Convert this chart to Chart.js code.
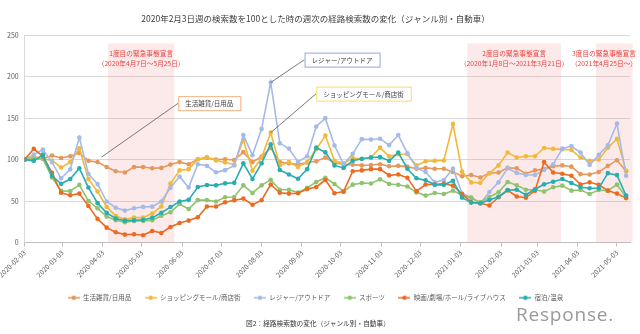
<!DOCTYPE html>
<html lang="ja">
<head>
<meta charset="utf-8">
<title>経路検索数の変化（ジャンル別・自動車）</title>
<script src="https://cdn.jsdelivr.net/npm/chart.js@4/dist/chart.umd.min.js"></script>
<style>
  html, body { margin: 0; padding: 0; background: #fff; }
  #wrap { position: relative; width: 640px; height: 334px; overflow: hidden; }
  #caption {
    position: absolute; left: 0; width: 636px; top: 318px;
    text-align: center; font: 6.7px "Noto Sans CJK JP", sans-serif; color: #333;
  }
  #logo {
    position: absolute; left: 516px; top: 301px;
    font: 19px "Open Sans", "Lato", sans-serif; color: #9a9a9a; letter-spacing: 0.8px;
  }
</style>
</head>
<body>
<div id="wrap">
  <canvas id="chart" width="640" height="334"></canvas>
  <div id="caption">図2：経路検索数の変化（ジャンル別・自動車）</div>
  <div id="logo">Response.</div>
</div>
<script>
// 2020-02-03週 = 100 とした週次の経路検索数（自動車）
const FIRST_WEEK = '2020-02-03';

const genres = ['生活雑貨/日用品', 'ショッピングモール/商店街', 'レジャー/アウトドア', 'スポーツ', '映画/劇場/ホール/ライブハウス', '宿泊/温泉'];

const dailyGoods = [100, 101, 101, 105, 102, 104, 108, 98.5, 97, 91,
  86, 84.5, 91, 91, 89.5, 90, 94, 97, 94.5, 100.5,
  102, 100, 100.5, 99.5, 109, 97, 103.7, 114, 97, 95.5,
  94.5, 96.5, 98, 102.5, 96, 94.5, 94, 93, 93.5, 94.5,
  92, 92.5, 91.5, 89, 90, 89, 89, 85, 80, 81.5,
  78.5, 83.7, 84.5, 90, 89.5, 83, 87, 88.5, 92, 93,
  91.5, 82.5, 82, 85, 92.5, 99.3, 86];
const shopping = [100, 104, 101, 99, 90.5, 97, 113.5, 76.5, 61.5, 43,
  32, 28, 30, 30, 35, 43.5, 71, 87, 88.5, 100.5,
  103, 99, 96.5, 94, 124, 86.5, 102.5, 132.5, 93, 97,
  91, 97, 112.5, 129, 98.5, 95.5, 102, 100.8, 102.5, 114.4,
  104, 106.5, 106.5, 93, 98, 98.5, 99, 143, 85.5, 72.5,
  72, 83.7, 93, 108.5, 102.5, 104, 104, 114, 113, 112.4,
  111.5, 102.5, 98.5, 100, 114.4, 125, 86.5];
const leisure = [100, 106, 112, 97, 77.5, 88.3, 126.5, 82.7, 70.5, 49.5,
  42, 38.5, 41.3, 43, 43.3, 49.5, 66, 79.5, 66.5, 94.5,
  92.5, 84.7, 87.3, 93, 129.6, 105.3, 137, 193, 119.6, 113.3,
  97.3, 104, 140, 150, 117, 94.5, 107, 124.7, 124.3, 125.2,
  117.5, 129.6, 107.7, 90, 85, 72.6, 75.5, 89.3, 59.2, 54.6,
  47, 61, 72.6, 89.5, 84, 81.5, 81.5, 87.5, 94.5, 113.2,
  116.4, 108.5, 93.5, 105.7, 117.2, 143.5, 80.5];
const sports = [100, 101, 101, 78.5, 62.3, 62, 69.5, 50, 41.3, 31.3,
  27, 24.5, 26, 26, 27, 32.3, 36.5, 46.4, 40.4, 51.2,
  51.2, 49.5, 54.6, 55, 69, 59.8, 69, 75.8, 63.6, 63.6,
  60.2, 66, 73, 78.2, 70.6, 61.6, 69.8, 71.8, 71.2, 76.2,
  70.6, 69.6, 67.6, 60.5, 56.6, 59.8, 58.6, 62.6, 57, 53.6,
  48.6, 55, 60.6, 73, 69, 63.6, 63.6, 61.6, 66.6, 68.6,
  62.6, 63.4, 58.6, 63.4, 62.6, 69.8, 54.6];
const movies = [100, 113, 104, 84, 60, 57, 59, 44, 28.5, 18,
  12.5, 9.6, 10, 8.8, 14, 11.6, 18.7, 23.5, 26.5, 30.5,
  43.5, 43.5, 48.6, 51, 53, 45.6, 51, 70, 60, 59,
  59.5, 64.5, 67, 75.4, 59.5, 61.4, 86, 87, 88.5, 88.5,
  81, 82, 78, 62, 70, 70, 71, 68.6, 58.6, 48.6,
  47.4, 44.7, 54.6, 63, 55.6, 54, 62.6, 97, 84.5, 83,
  80.5, 70, 72.6, 69.6, 62.6, 59, 53.6];
const lodging = [100, 98.5, 106, 80.5, 70.8, 76.6, 89.5, 66.3, 47.5, 35.8,
  29, 26.4, 26.8, 27.4, 29.8, 36, 42.8, 49.5, 51.5, 67,
  69.4, 69, 71.4, 72, 95.5, 76.6, 95.7, 118.6, 87.5, 82,
  77, 88.5, 114.4, 108.7, 93, 90, 98.7, 101, 102.5, 103,
  98.5, 108.5, 89, 77.5, 75, 69.6, 69.6, 74.6, 54.2, 48.2,
  47.4, 51.2, 55.2, 63.2, 63.6, 57.6, 64.2, 70.2, 73.4, 76.6,
  71.8, 66.6, 65.4, 65.4, 83.7, 81.3, 56.6];

const seriesValues = [dailyGoods, shopping, leisure, sports, movies, lodging];

// 目盛り（毎月3日）
const tickDates = ['2020-02-03', '2020-03-03', '2020-04-03', '2020-05-03', '2020-06-03', '2020-07-03',
  '2020-08-03', '2020-09-03', '2020-10-03', '2020-11-03', '2020-12-03', '2021-01-03',
  '2021-02-03', '2021-03-03', '2021-04-03', '2021-05-03'];
const yTicks = [0, 50, 100, 150, 200, 250];

// 緊急事態宣言の期間
const emergencyTitles = ['1度目の緊急事態宣言', '2度目の緊急事態宣言', '3度目の緊急事態宣言'];
const emergencyNotes = ['（2020年4月7日～5月25日）', '（2020年1月8日～2021年3月21日）', '（2021年4月25日～）'];
const emergencyFrom = ['2020-04-07', '2021-01-08', '2021-04-17'];
const emergencyTo = ['2020-05-28', '2021-03-21', '2021-05-15'];

// 吹き出し: 対象の系列と週
const calloutSeries = [0, 2, 1];
const calloutWeek = [null, 27, 27];

const colors = ['#E5985C', '#F1B93B', '#A6BAE7', '#8FC36F', '#EC6B20', '#28ADB0'];
const calloutBorders = ['#F4B183', '#8EA9DB', '#FFD966'];
// 吹き出しの位置（日付, 値）
const calloutBox = [
  { date: '2020-05-31', value: 176.5 },
  { date: '2020-09-05', value: 229 },
  { date: '2020-09-14', value: 188 }
];
const calloutFreeTip = { date: '2020-04-02', value: 103 };

const DAY = 86400000;
const t0 = Date.parse(FIRST_WEEK + 'T00:00:00Z');
const dayOf = s => (Date.parse(s + 'T00:00:00Z') - t0) / DAY;
const dateStr = d => new Date(t0 + d * DAY).toISOString().slice(0, 10);
const weeks = dailyGoods.map((_, i) => dateStr(i * 7));

const FONT = '"Noto Sans CJK JP", "Noto Sans", sans-serif';
Chart.defaults.font.family = FONT;
Chart.defaults.color = '#595959';

function legendMarker(color) {
  const c = document.createElement('canvas');
  c.width = 12; c.height = 6;
  const g = c.getContext('2d');
  g.strokeStyle = color; g.lineWidth = 1.5;
  g.beginPath(); g.moveTo(0, 3); g.lineTo(12, 3); g.stroke();
  g.fillStyle = color;
  g.beginPath(); g.arc(6, 3, 2.2, 0, Math.PI * 2); g.fill();
  return c;
}

const overlay = {
  id: 'overlay',
  beforeDatasetsDraw(chart) {
    const { ctx } = chart;
    const xs = chart.scales.x, ys = chart.scales.y;
    const top = ys.getPixelForValue(240), bottom = ys.getPixelForValue(0);
    ctx.save();
    ctx.fillStyle = 'rgba(240, 150, 150, 0.2)';
    emergencyFrom.forEach((from, i) => {
      const x1 = xs.getPixelForValue(dayOf(from));
      const x2 = xs.getPixelForValue(dayOf(emergencyTo[i]));
      ctx.fillRect(x1, top, x2 - x1, bottom - top);
    });
    ctx.fillStyle = '#E8413E';
    ctx.font = '6.7px ' + FONT;
    ctx.textAlign = 'center';
    ctx.textBaseline = 'middle';
    emergencyFrom.forEach((from, i) => {
      const x1 = xs.getPixelForValue(dayOf(from));
      const x2 = xs.getPixelForValue(dayOf(emergencyTo[i]));
      const w = Math.max(ctx.measureText(emergencyTitles[i]).width, ctx.measureText(emergencyNotes[i]).width);
      const cx = Math.min((x1 + x2) / 2, chart.width - 3 - w / 2);
      ctx.fillText(emergencyTitles[i], cx, top + 9.5);
      ctx.fillText(emergencyNotes[i], cx, top + 20);
    });
    ctx.restore();
  },
  afterDatasetsDraw(chart) {
    const { ctx } = chart;
    const xs = chart.scales.x, ys = chart.scales.y;
    ctx.save();
    ctx.font = '6.5px ' + FONT;
    ctx.textBaseline = 'middle';
    calloutSeries.forEach((s, i) => {
      const text = genres[s];
      const bx = xs.getPixelForValue(dayOf(calloutBox[i].date));
      const by = ys.getPixelForValue(calloutBox[i].value);
      const bw = ctx.measureText(text).width + 14;
      const bh = 14;
      let tx, ty;
      if (calloutWeek[i] === null) {
        tx = xs.getPixelForValue(dayOf(calloutFreeTip.date));
        ty = ys.getPixelForValue(calloutFreeTip.value);
      } else {
        tx = xs.getPixelForValue(dayOf(weeks[calloutWeek[i]]));
        ty = ys.getPixelForValue(seriesValues[s][calloutWeek[i]]);
      }
      ctx.strokeStyle = '#595959';
      ctx.lineWidth = 0.8;
      ctx.beginPath();
      ctx.moveTo(bx, by + bh / 2);
      ctx.lineTo(tx, ty);
      ctx.stroke();
      ctx.fillStyle = '#fff';
      ctx.fillRect(bx, by, bw, bh);
      ctx.strokeStyle = calloutBorders[i];
      ctx.lineWidth = 1;
      ctx.strokeRect(bx + 0.5, by + 0.5, bw, bh);
      ctx.fillStyle = '#404040';
      ctx.fillText(text, bx + 7, by + bh / 2 + 0.5);
    });
    ctx.restore();
  }
};

new Chart(document.getElementById('chart'), {
  type: 'line',
  data: {
    datasets: genres.map((g, i) => ({
      label: g,
      data: seriesValues[i].map((v, k) => ({ x: dayOf(weeks[k]), y: v })),
      borderColor: colors[i],
      backgroundColor: colors[i],
      pointBackgroundColor: colors[i],
      pointBorderWidth: 0,
      pointRadius: 2.3,
      borderWidth: 1.6,
      tension: 0,
      order: genres.length - 1 - i
    }))
  },
  options: {
    responsive: false,
    animation: false,
    devicePixelRatio: 1,
    layout: { padding: { top: 0, left: 1, right: 10, bottom: 23 } },
    plugins: {
      title: {
        display: true,
        text: '2020年2月3日週の検索数を100とした時の週次の経路検索数の変化（ジャンル別・自動車）',
        color: '#404040',
        font: { size: 8.5, weight: 'normal' },
        padding: { top: 14, bottom: 11 }
      },
      legend: {
        position: 'bottom',
        labels: {
          usePointStyle: true,
          pointStyleWidth: 12,
          font: { size: 6.5 },
          padding: 13.5,
          generateLabels: chart => chart.data.datasets.map((ds, i) => ({
            text: ds.label,
            fillStyle: ds.borderColor,
            strokeStyle: ds.borderColor,
            lineWidth: 0,
            pointStyle: legendMarker(ds.borderColor),
            fontColor: '#595959',
            hidden: false,
            datasetIndex: i
          }))
        }
      },
      tooltip: { enabled: false }
    },
    scales: {
      x: {
        type: 'linear',
        min: 0,
        max: dayOf('2021-05-13'),
        afterBuildTicks: scale => { scale.ticks = tickDates.map(d => ({ value: dayOf(d) })); },
        // 斜めの先頭ラベルで左余白が広がらないようにする
        afterFit: scale => { scale.paddingLeft = 0; },
        ticks: {
          autoSkip: false,
          minRotation: 45,
          maxRotation: 45,
          font: { size: 6.8 },
          padding: 2,
          callback: v => dateStr(v)
        },
        grid: { drawOnChartArea: false, drawTicks: true, tickLength: 4, color: '#BFBFBF' },
        border: { display: true, color: '#BFBFBF' }
      },
      y: {
        min: 0,
        max: 250,
        afterBuildTicks: scale => { scale.ticks = yTicks.map(v => ({ value: v })); },
        ticks: { font: { size: 7 }, padding: 6 },
        grid: { color: '#D9D9D9', drawTicks: false },
        border: { display: true, color: '#D9D9D9' }
      }
    }
  },
  plugins: [overlay]
});
</script>
</body>
</html>
